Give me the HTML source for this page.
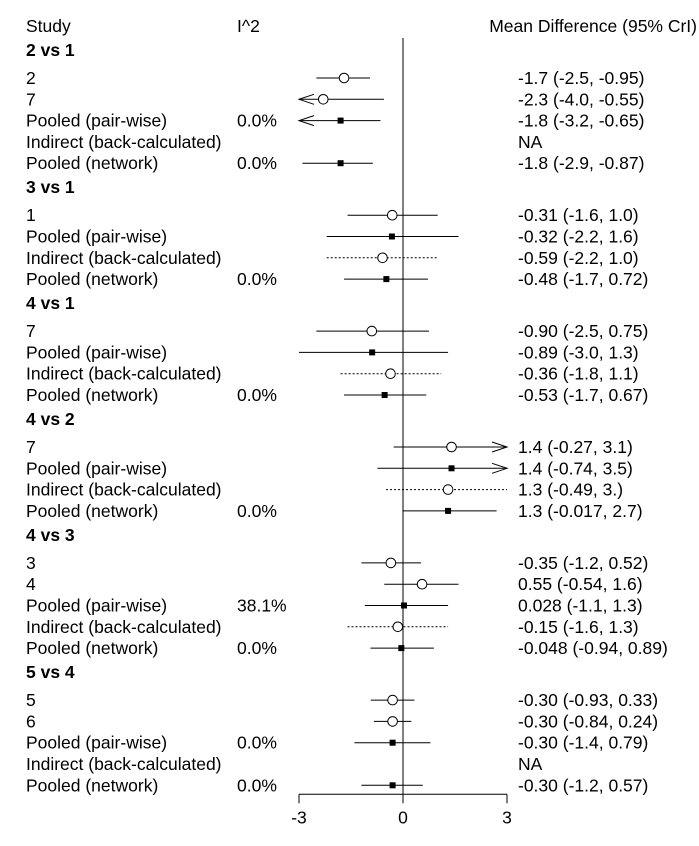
<!DOCTYPE html>
<html><head><meta charset="utf-8"><style>
html,body{margin:0;padding:0;background:#fff;}
svg{display:block;font-family:"Liberation Sans",Arial,sans-serif;font-size:17.5px;}
</style></head><body>
<svg id="chart" width="699" height="846" viewBox="0 0 699 846" xmlns="http://www.w3.org/2000/svg"></svg>
<script>
const groups = ["2 vs 1","3 vs 1","4 vs 1","4 vs 2","4 vs 3","5 vs 4"];
const rowGroup = [0,0,0,0,0, 1,1,1,1, 2,2,2,2, 3,3,3,3, 4,4,4,4,4, 5,5,5,5,5];
const rowLabels = ["2","7","Pooled (pair-wise)","Indirect (back-calculated)","Pooled (network)",
 "1","Pooled (pair-wise)","Indirect (back-calculated)","Pooled (network)",
 "7","Pooled (pair-wise)","Indirect (back-calculated)","Pooled (network)",
 "7","Pooled (pair-wise)","Indirect (back-calculated)","Pooled (network)",
 "3","4","Pooled (pair-wise)","Indirect (back-calculated)","Pooled (network)",
 "5","6","Pooled (pair-wise)","Indirect (back-calculated)","Pooled (network)"];
const rowType = ["s","s","p","i","p", "s","p","i","p", "s","p","i","p", "s","p","i","p", "s","s","p","i","p", "s","s","p","i","p"];
const i2 = ["","","0.0%","","0.0%", "","","","0.0%", "","","","0.0%", "","","","0.0%", "","","38.1%","","0.0%", "","","0.0%","","0.0%"];
const est = [-1.7,-2.3,-1.8,null,-1.8, -0.31,-0.32,-0.59,-0.48, -0.90,-0.89,-0.36,-0.53, 1.4,1.4,1.3,1.3, -0.35,0.55,0.028,-0.15,-0.048, -0.30,-0.30,-0.30,null,-0.30];
const lo = [-2.5,-4.0,-3.2,null,-2.9, -1.6,-2.2,-2.2,-1.7, -2.5,-3.0,-1.8,-1.7, -0.27,-0.74,-0.49,-0.017, -1.2,-0.54,-1.1,-1.6,-0.94, -0.93,-0.84,-1.4,null,-1.2];
const hi = [-0.95,-0.55,-0.65,null,-0.87, 1.0,1.6,1.0,0.72, 0.75,1.3,1.1,0.67, 3.1,3.5,3.0,2.7, 0.52,1.6,1.3,1.3,0.89, 0.33,0.24,0.79,null,0.57];
const ciText = ["-1.7 (-2.5, -0.95)","-2.3 (-4.0, -0.55)","-1.8 (-3.2, -0.65)","NA","-1.8 (-2.9, -0.87)",
 "-0.31 (-1.6, 1.0)","-0.32 (-2.2, 1.6)","-0.59 (-2.2, 1.0)","-0.48 (-1.7, 0.72)",
 "-0.90 (-2.5, 0.75)","-0.89 (-3.0, 1.3)","-0.36 (-1.8, 1.1)","-0.53 (-1.7, 0.67)",
 "1.4 (-0.27, 3.1)","1.4 (-0.74, 3.5)","1.3 (-0.49,  3.)","1.3 (-0.017, 2.7)",
 "-0.35 (-1.2, 0.52)","0.55 (-0.54, 1.6)","0.028 (-1.1, 1.3)","-0.15 (-1.6, 1.3)","-0.048 (-0.94, 0.89)",
 "-0.30 (-0.93, 0.33)","-0.30 (-0.84, 0.24)","-0.30 (-1.4, 0.79)","NA","-0.30 (-1.2, 0.57)"];
const ticks = [-3,0,3];
const xMin = -3, xMax = 3;

const svg = document.getElementById('chart');
const NS = 'http://www.w3.org/2000/svg';
function x(v){ return 403 + v*34.67; }
function mk(tag, attrs, parent){ const e=document.createElementNS(NS,tag); for(const k in attrs) e.setAttribute(k,attrs[k]); (parent||svg).appendChild(e); return e; }
function txt(s, X, Y, extra){ const t=mk('text', Object.assign({x:X,y:Y,'dominant-baseline':'central',fill:'#000'}, extra||{})); t.textContent=s; return t; }

const LX = 26, RX = 518;
let t;
t = txt("Study", LX, 26);


t = txt("I^2", 237, 26);


t = txt("Mean Difference (95% CrI)", 697, 26, {'text-anchor':'end'});



const ys = []; const gy = [];
let y = 50, prevG = -1;
for (let i=0;i<rowLabels.length;i++){
  if (rowGroup[i]!==prevG){
    if (prevG>=0) y += 24;
    gy.push(y); y += 28; prevG = rowGroup[i];
  } else y += 21.3;
  ys.push(y);
}
const lastY = ys[ys.length-1];
const axisY = lastY + 9;

let zl = mk('line',{x1:x(0),x2:x(0),y1:38,y2:axisY,stroke:'#000','stroke-width':1});



groups.forEach((g,k)=>{
  const e = txt(g, LX, gy[k], {'font-weight':'bold'});
  
  
});

for (let i=0;i<rowLabels.length;i++){
  const Y = ys[i];
  let e = txt(rowLabels[i], LX, Y);
  
  
  if (i2[i]) {
    e = txt(i2[i], 237, Y);
    
    
  }
  e = txt(ciText[i], RX, Y);
  
  
  if (est[i]===null) continue;
  const g = mk('g',{});
  
  
  const l = Math.max(lo[i], xMin), h = Math.min(hi[i], xMax);
  const ln = mk('line',{x1:x(l),x2:x(h),y1:Y,y2:Y,stroke:'#000','stroke-width':1}, g);
  if (rowType[i]==='i') ln.setAttribute('stroke-dasharray','2,2');
  if (lo[i] < xMin) mk('polyline',{points:`${x(xMin)+15},${Y-5} ${x(xMin)},${Y} ${x(xMin)+15},${Y+5}`,fill:'none',stroke:'#000'}, g);
  if (hi[i] > xMax) mk('polyline',{points:`${x(xMax)-15},${Y-5} ${x(xMax)},${Y} ${x(xMax)-15},${Y+5}`,fill:'none',stroke:'#000'}, g);
  if (rowType[i]==='p') mk('rect',{x:x(est[i])-3,y:Y-3,width:6,height:6,fill:'#000'}, g);
  else mk('circle',{cx:x(est[i]),cy:Y,r:4.8,fill:'#fff',stroke:'#000'}, g);
}

const ax = mk('g',{});


mk('line',{x1:x(xMin),x2:x(xMax),y1:axisY,y2:axisY,stroke:'#000'}, ax);
ticks.forEach(v=>{
  mk('line',{x1:x(v),x2:x(v),y1:axisY,y2:axisY+9,stroke:'#000'}, ax);
  const e = txt(String(v), x(v), axisY+23, {'text-anchor':'middle'});
  
  
});
</script>
</body></html>
